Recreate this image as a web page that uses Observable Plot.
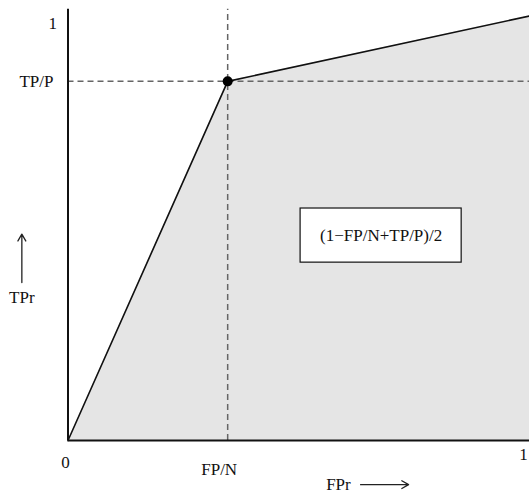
<!DOCTYPE html>
<html>
<head>
<meta charset="utf-8">
<script src="https://cdn.jsdelivr.net/npm/d3@7"></script>
<script src="https://cdn.jsdelivr.net/npm/@observablehq/plot@0.6"></script>
<style>
  html, body { margin: 0; padding: 0; background: #fff; }
  #chart svg { display: block; }
</style>
</head>
<body>
<div id="chart"></div>
<script>
// Single-threshold ROC point: false positive rate FP/N and true positive rate TP/P
const fpRate = 0.346;
const tpRate = 0.846;

// ROC curve vertices (FPr, TPr)
const rocFpr = [0, fpRate, 1];
const rocTpr = [0, tpRate, 1];

// Tick labels
const xTickValues = [0, fpRate, 1];
const xTickLabels = ["0", "FP/N", "1"];
const yTickValues = [1, tpRate];
const yTickLabels = ["1", "TP/P"];

// Axis titles and area formula
const xTitle = "FPr";
const yTitle = "TPr";
const aucLabel = "(1\u2212FP/N+TP/P)/2";

// The vertical axis and guide run a little past 1
const yTop = 1.016;

const roc = rocFpr.map((x, i) => ({x, y: rocTpr[i]}));
const point = [{x: fpRate, y: tpRate}];

const dash = {stroke: "#666", strokeWidth: 1.5, strokeDasharray: "6,4"};

const chart = Plot.plot({
  width: 529,
  height: 495,
  marginLeft: 67.5,
  marginRight: 0,
  marginTop: 15.5,
  marginBottom: 55,
  x: {domain: [0, 1], axis: null},
  y: {domain: [0, 1], axis: null},
  style: {fontFamily: "'Liberation Serif', 'Times New Roman', serif", fontSize: "17px", color: "#111"},
  marks: [
    // shaded area under the ROC curve
    Plot.areaY(roc, {x: "x", y: "y", fill: "#e5e5e5"}),
    // dashed guides through the operating point
    Plot.ruleX(point, {x: "x", y1: 0, y2: yTop, ...dash}),
    Plot.ruleY(point, {y: "y", x1: 0, x2: 1, ...dash}),
    // ROC curve
    Plot.line(roc, {x: "x", y: "y", stroke: "#111", strokeWidth: 1.6}),
    // axes
    Plot.ruleX([0], {y1: 0, y2: yTop, stroke: "#111", strokeWidth: 2}),
    Plot.ruleY([0], {x1: 0, x2: 1, stroke: "#111", strokeWidth: 2.2}),
    // operating point
    Plot.dot(point, {x: "x", y: "y", r: 5, fill: "#000"}),
    // tick labels on the FPr axis
    Plot.text([xTickValues[0]], {x: d => d, y: 0, text: () => xTickLabels[0], dx: -2.5, dy: 22}),
    Plot.text([xTickValues[1]], {x: d => d, y: 0, text: () => xTickLabels[1], dx: -8.5, dy: 29}),
    Plot.text([xTickValues[2]], {x: d => d, y: 0, text: () => xTickLabels[2], dx: -6, dy: 14}),
    // tick labels on the TPr axis
    Plot.text([yTickValues[0]], {x: 0, y: d => d, text: () => yTickLabels[0], textAnchor: "end", dx: -11, dy: 7.5}),
    Plot.text([yTickValues[1]], {x: 0, y: d => d, text: () => yTickLabels[1], textAnchor: "end", dx: -14.5}),
    // axis titles with arrows
    Plot.text([xTitle], {x: 0.586, y: -0.104, text: d => d}),
    Plot.arrow([{x1: 0.634, x2: 0.738, y: -0.104}], {x1: "x1", x2: "x2", y1: "y", y2: "y", stroke: "#222", strokeWidth: 1.3, headLength: 9}),
    Plot.text([yTitle], {x: -0.1, y: 0.337, text: d => d}),
    Plot.arrow([{x: -0.1, y1: 0.372, y2: 0.486}], {x1: "x", x2: "x", y1: "y1", y2: "y2", stroke: "#222", strokeWidth: 1.3, headLength: 9}),
    // boxed formula for the area
    Plot.rect([{x1: 0.504, x2: 0.853, y1: 0.419, y2: 0.5465}], {x1: "x1", x2: "x2", y1: "y1", y2: "y2", fill: "#fff", stroke: "#111", strokeWidth: 1.2}),
    Plot.text([aucLabel], {x: 0.6785, y: 0.483, text: d => d})
  ]
});

document.getElementById("chart").appendChild(chart);
</script>
</body>
</html>
